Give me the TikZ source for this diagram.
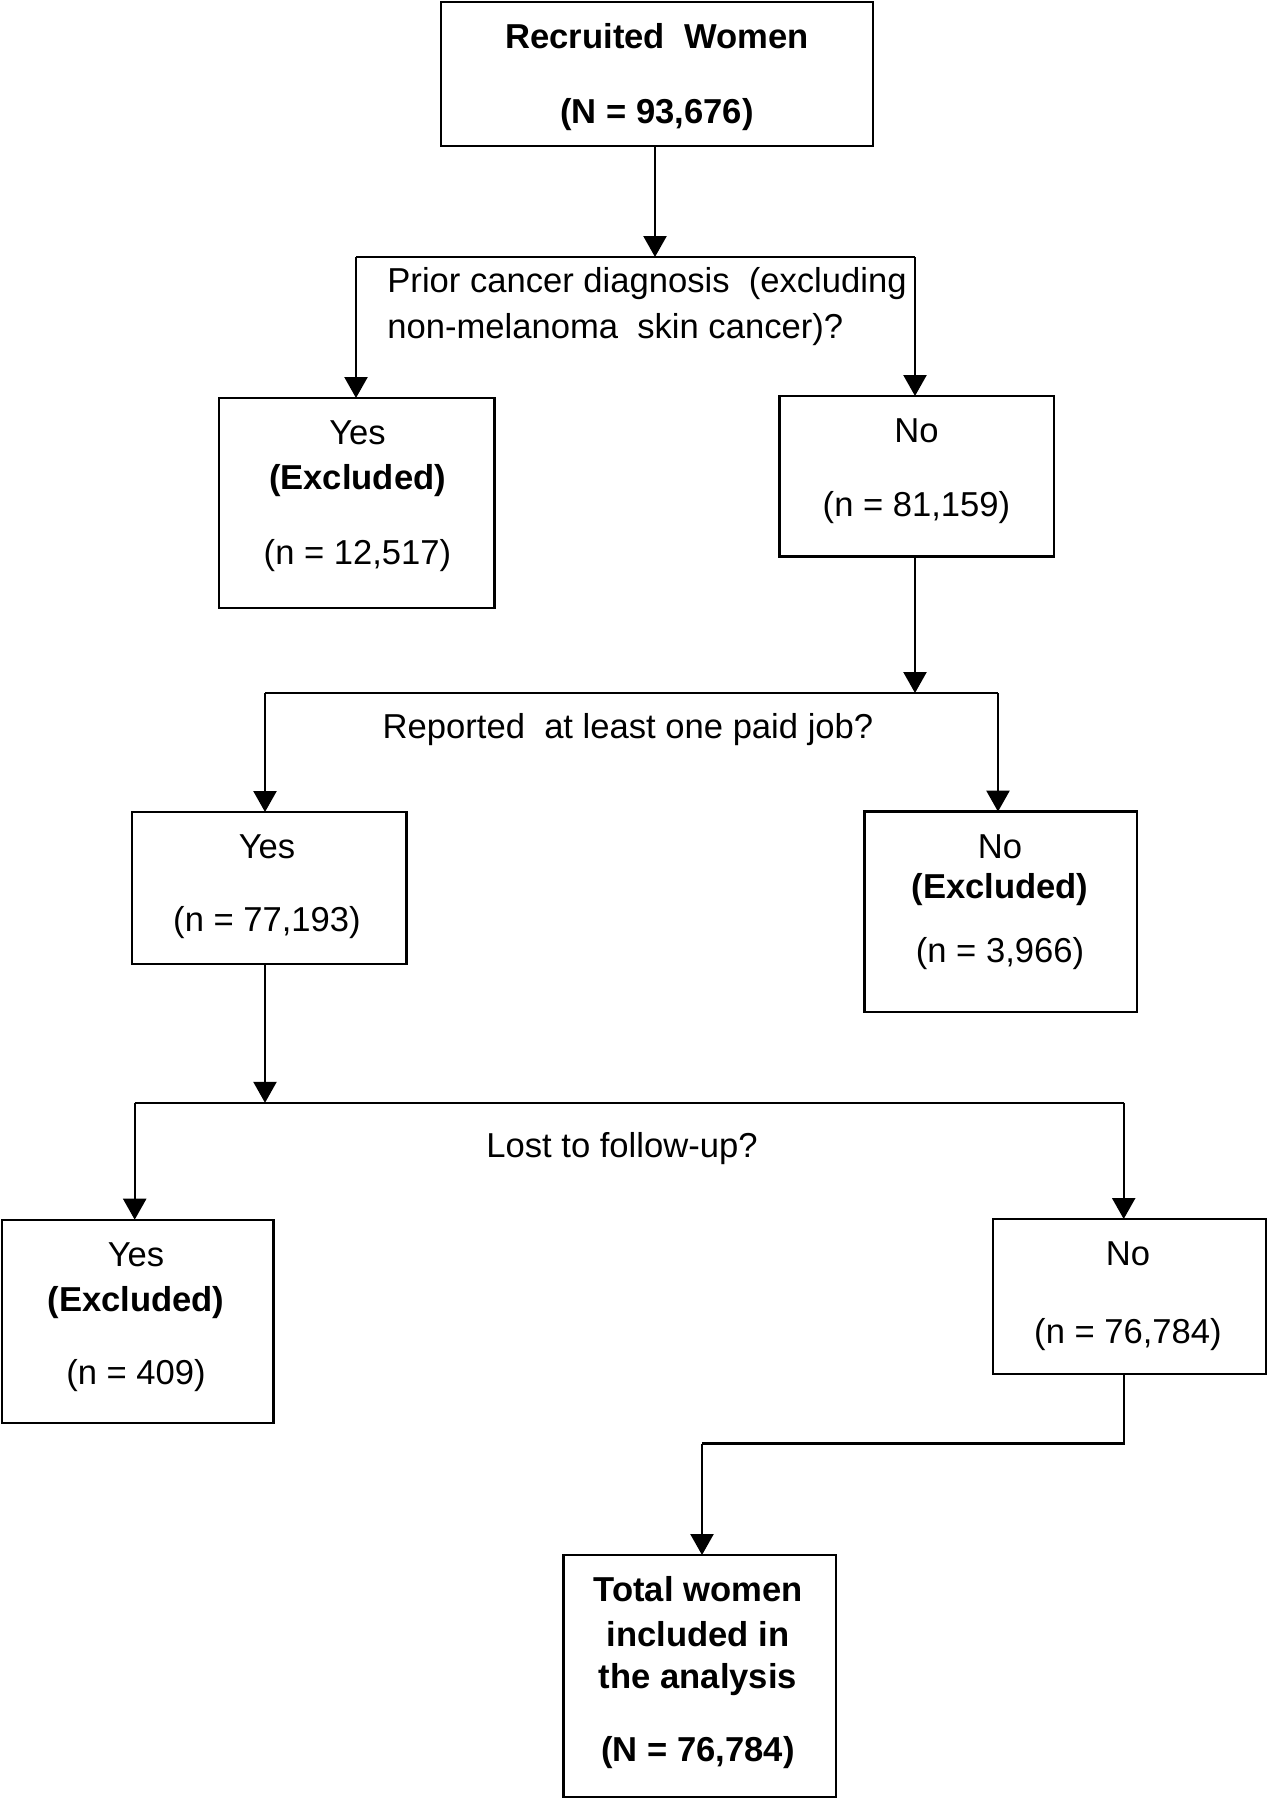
\documentclass[tikz,border=0pt]{standalone}
\usepackage{fontspec}
\setmainfont{Liberation Sans}
\usetikzlibrary{arrows.meta}
\begin{document}
\begin{tikzpicture}[x=0.5pt,y=-0.5pt,
  boxnode/.style={draw=black,line width=1.2pt,rectangle,inner sep=0pt,outer sep=0pt},
  txt/.style={anchor=base,inner sep=0pt,font=\fontsize{17.3pt}{20pt}\selectfont},
  btxt/.style={txt,font=\fontsize{17.3pt}{20pt}\selectfont\bfseries},
  conn/.style={line width=1.2pt,draw=black},
  arr/.style={conn,-{Triangle[width=11.5pt,length=10.5pt]}}]
\useasboundingbox (0,0) rectangle (1267,1800);
% boxes
\node[boxnode,minimum width=216pt,minimum height=71.8pt] (top) at (657,74) {};
\node[boxnode,minimum width=137.8pt,minimum height=105pt] (yes1) at (356.8,503) {};
\node[boxnode,minimum width=137.2pt,minimum height=80.3pt] (no1) at (916.5,476.3) {};
\node[boxnode,minimum width=137.3pt,minimum height=76pt] (yes2) at (269.3,888) {};
\node[boxnode,minimum width=136.2pt,minimum height=100.2pt] (no2) at (1000.8,911.8) {};
\node[boxnode,minimum width=135.8pt,minimum height=101.5pt] (yes3) at (137.8,1321.2) {};
\node[boxnode,minimum width=136.6pt,minimum height=77.5pt] (no3) at (1129.3,1296.5) {};
\node[boxnode,minimum width=136.3pt,minimum height=121pt] (fin) at (699.7,1676) {};
% texts
\node[btxt] (topa) at (657,48.5) {Recruited\ \ Women};
\node[btxt] (topb) at (657,123) {(N = 93,676)};
\node[txt,anchor=base west] (q1a) at (387,292.5) {Prior cancer diagnosis\ \ (excluding};
\node[txt,anchor=base west] (q1b) at (387,338) {non-melanoma\ \ skin cancer)?};
\node[txt] (yes1a) at (357.5,444.5) {Yes};
\node[btxt] (yes1b) at (357.5,489) {(Excluded)};
\node[txt] (yes1c) at (357.5,564) {(n = 12,517)};
\node[txt] (no1a) at (916.5,442.5) {No};
\node[txt] (no1b) at (916.5,516.3) {(n = 81,159)};
\node[txt] (q2) at (628,738) {Reported\ \ at least one paid job?};
\node[txt] (yes2a) at (267,858) {Yes};
\node[txt] (yes2b) at (267,931.5) {(n = 77,193)};
\node[txt] (no2a) at (1000,858) {No};
\node[btxt] (no2b) at (1000,898) {(Excluded)};
\node[txt] (no2c) at (1000,962) {(n = 3,966)};
\node[txt] (q3) at (622,1157) {Lost to follow-up?};
\node[txt] (yes3a) at (136,1266) {Yes};
\node[btxt] (yes3b) at (136,1311) {(Excluded)};
\node[txt] (yes3c) at (136,1384) {(n = 409)};
\node[txt] (no3a) at (1128,1265.7) {No};
\node[txt] (no3b) at (1128,1343) {(n = 76,784)};
\node[btxt] (fina) at (698,1601.7) {Total women};
\node[btxt] (finb) at (698,1646.7) {included in};
\node[btxt] (finc) at (698,1688) {the analysis};
\node[btxt] (find) at (698,1761.7) {(N = 76,784)};
% junction coordinates
\coordinate (j1) at (655,257);
\coordinate (j1L) at (356,257);
\coordinate (j1R) at (915,257);
\coordinate (j2) at (915,693);
\coordinate (j2L) at (265,693);
\coordinate (j2R) at (998,693);
\coordinate (j3) at (265,1102.8);
\coordinate (j3L) at (134.7,1102.8);
\coordinate (j3R) at (1123.7,1102.8);
\coordinate (j4) at (1123.7,1443.5);
\coordinate (j4L) at (702,1443.5);
% connectors
\draw[arr] (j1 |- top.south) -- (j1);
\draw[conn] (j1L) -- (j1R);
\draw[arr] (j1L) -- (j1L |- yes1.north);
\draw[arr] (j1R) -- (j1R |- no1.north);
\draw[arr] (j2 |- no1.south) -- (j2);
\draw[conn] (j2L) -- (j2R);
\draw[arr] (j2L) -- (j2L |- yes2.north);
\draw[arr] (j2R) -- (j2R |- no2.north);
\draw[arr] (j3 |- yes2.south) -- (j3);
\draw[conn] (j3L) -- (j3R);
\draw[arr] (j3L) -- (j3L |- yes3.north);
\draw[arr] (j3R) -- (j3R |- no3.north);
\draw[conn] (j4 |- no3.south) -- (j4) -- (j4L);
\draw[arr] (j4L) -- (j4L |- fin.north);
\end{tikzpicture}
\end{document}
